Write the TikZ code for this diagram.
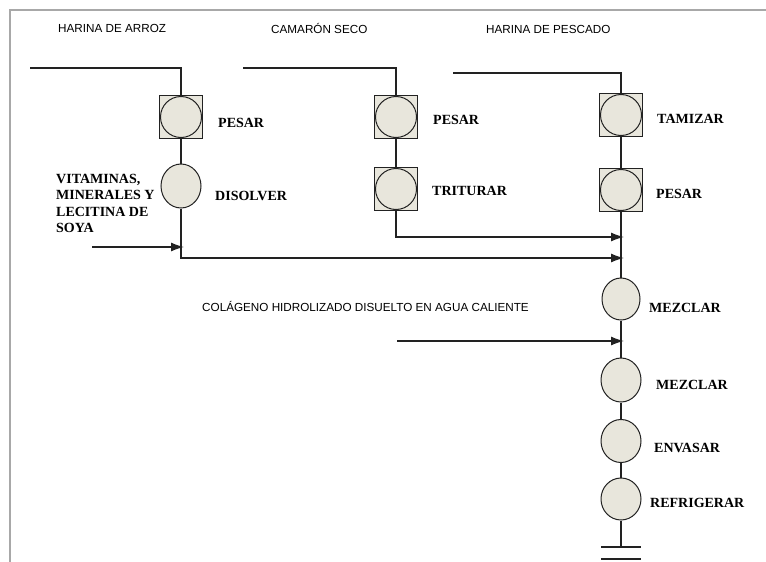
\documentclass[tikz,border=0pt]{standalone}
\usepackage{fontspec}
\usepackage{tikz}
\usetikzlibrary{arrows.meta,shapes.geometric}
\setmainfont{Liberation Serif}
\newfontfamily\feedfont{Liberation Sans}
\definecolor{opfill}{HTML}{E8E6DC}
\definecolor{framegray}{HTML}{A8A8A8}
\definecolor{linegray}{HTML}{222222}

\tikzset{
  unitbox/.style={draw=linegray,fill=opfill,minimum size=43pt,inner sep=0pt,line width=1pt},
  opcircle/.style={circle,draw=linegray,fill=opfill,minimum size=41pt,inner sep=0pt,line width=1pt},
  opoval/.style={ellipse,draw=linegray,fill=opfill,minimum width=40pt,minimum height=44pt,inner sep=0pt,line width=1pt},
  oplabel/.style={anchor=base west,inner sep=0pt,font=\fontsize{14}{16.3}\selectfont\bfseries},
  feedlabel/.style={anchor=base west,inner sep=0pt,font=\feedfont\fontsize{11.7}{13}\selectfont},
  flow/.style={draw=linegray,line width=1.2pt},
  feed/.style={flow,-{Latex[length=13pt,width=9pt]}},
}

\begin{document}
\begin{tikzpicture}[x=1pt,y=-1pt]
  \useasboundingbox (0,0) rectangle (766,562);
  % marco
  \draw[framegray,line width=2pt] (10,562) -- (10,10) -- (766,10);
  % materias primas
  \node[feedlabel] (arrozlbl) at (58,32) {HARINA DE ARROZ};
  \node[feedlabel] (camaronlbl) at (271,33) {CAMARÓN SECO};
  \node[feedlabel] (pescadolbl) at (486,33) {HARINA DE PESCADO};
  \coordinate (arrozin) at (30,68);
  \coordinate (camaronin) at (243,68);
  \coordinate (pescadoin) at (453,73);
  % linea 1: harina de arroz
  \node[unitbox] (pesarAbox) at (181,117) {};
  \node[opcircle] (pesarA) at (181,117) {};
  \node[oplabel] (pesarAlbl) at (218,127) {PESAR};
  \node[opoval] (disolver) at (181,186) {};
  \node[oplabel] (disolverlbl) at (215,200) {DISOLVER};
  \node[oplabel,anchor=north west,align=left] (vitlbl) at (56,174) {VITAMINAS,\\MINERALES Y\\LECITINA DE\\SOYA};
  \coordinate (vitin) at (92,247);
  % linea 2: camaron seco
  \node[unitbox] (pesarBbox) at (396,117) {};
  \node[opcircle] (pesarB) at (396,117) {};
  \node[oplabel] (pesarBlbl) at (433,124) {PESAR};
  \node[unitbox] (triturarbox) at (396,189) {};
  \node[opcircle] (triturar) at (396,189) {};
  \node[oplabel] (triturarlbl) at (432,195) {TRITURAR};
  % linea 3: harina de pescado y proceso principal
  \node[unitbox] (tamizarbox) at (621,115) {};
  \node[opcircle] (tamizar) at (621,115) {};
  \node[oplabel] (tamizarlbl) at (657,123) {TAMIZAR};
  \node[unitbox] (pesarCbox) at (621,190) {};
  \node[opcircle] (pesarC) at (621,190) {};
  \node[oplabel] (pesarClbl) at (656,198) {PESAR};
  \coordinate (joinB) at (624,237);
  \coordinate (joinA) at (624,258);
  \node[opoval,minimum width=38pt,minimum height=42pt] (mezclarA) at (621,299) {};
  \node[oplabel] (mezclarAlbl) at (649,312) {MEZCLAR};
  \node[feedlabel] (colagenolbl) at (202,311) {COLÁGENO HIDROLIZADO DISUELTO EN AGUA CALIENTE};
  \coordinate (colin) at (397,341);
  \node[opoval] (mezclarB) at (621,380) {};
  \node[oplabel] (mezclarBlbl) at (656,389) {MEZCLAR};
  \node[opoval,minimum height=43pt] (envasar) at (621,441) {};
  \node[oplabel] (envasarlbl) at (654,452) {ENVASAR};
  \node[opoval,minimum height=42pt] (refrigerar) at (621,499) {};
  \node[oplabel] (refrigerarlbl) at (650,507) {REFRIGERAR};
  \coordinate (fin) at (621,547);
  \coordinate (finL) at (601,547);
  \coordinate (finR) at (641,547);
  \coordinate (baseL) at (601,559);
  \coordinate (baseR) at (641,559);
  % conexiones
  \draw[flow] (arrozin) -| (pesarAbox.north);
  \draw[flow] (pesarAbox.south) -- (disolver.north);
  \draw[feed] (disolver.south) |- (joinA);
  \draw[feed] (vitin) -- ([xshift=3pt]vitin -| disolver.south);
  \draw[flow] (camaronin) -| (pesarBbox.north);
  \draw[flow] (pesarBbox.south) -- (triturarbox.north);
  \draw[feed] (triturarbox.south) |- (joinB);
  \draw[flow] (pescadoin) -| (tamizarbox.north);
  \draw[flow] (tamizarbox.south) -- (pesarCbox.north);
  \draw[flow] (pesarCbox.south) -- (mezclarA.north);
  \draw[flow] (mezclarA.south) -- (mezclarB.north);
  \draw[feed] (colin) -- ([xshift=3pt]colin -| mezclarA.south);
  \draw[flow] (mezclarB.south) -- (envasar.north);
  \draw[flow] (envasar.south) -- (refrigerar.north);
  \draw[flow] (refrigerar.south) -- (fin);
  \draw[flow] (finL) -- (finR);
  \draw[linegray,line width=2.5pt] (baseL) -- (baseR);
\end{tikzpicture}
\end{document}
